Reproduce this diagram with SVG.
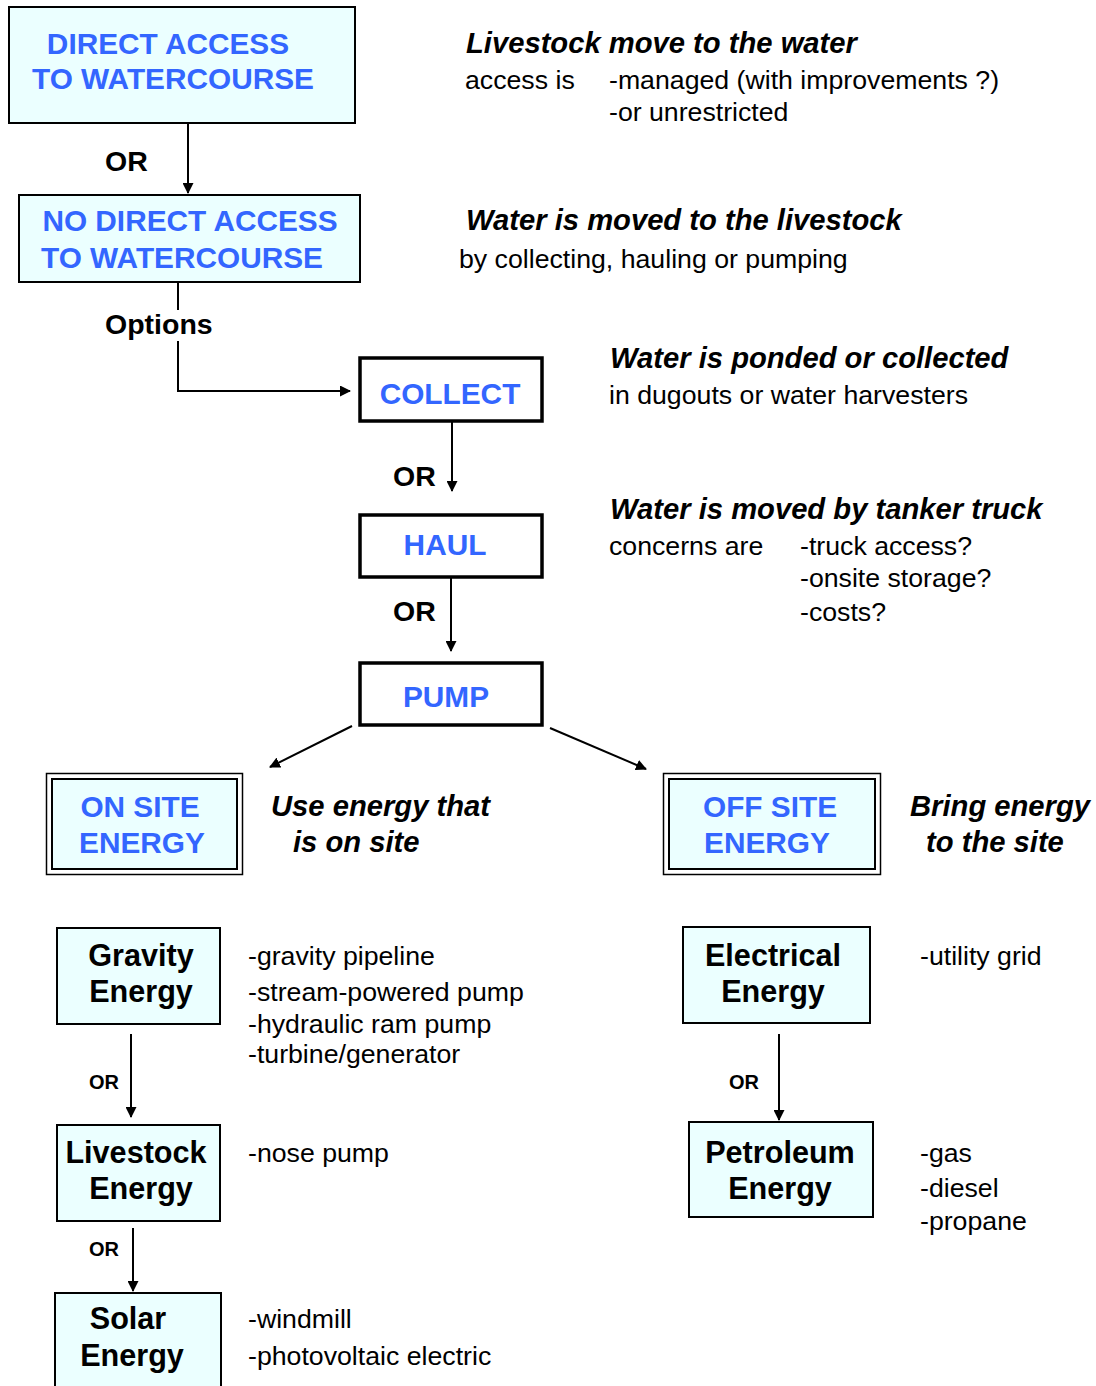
<svg xmlns="http://www.w3.org/2000/svg" width="1096" height="1386" viewBox="0 0 1096 1386">
<defs>
<marker id="ah" markerWidth="11" markerHeight="11" refX="10" refY="5.5" orient="auto" markerUnits="userSpaceOnUse">
<path d="M0,0 L11,5.5 L0,11 z" fill="#000"/>
</marker>
<style>
.box{fill:#EBFFFF;stroke:#000;stroke-width:2}
.wbox{fill:#fff;stroke:#000;stroke-width:3.5}
.bt{font-family:"Liberation Sans",Arial,sans-serif;font-weight:bold;font-size:29.8px;fill:#3366FF;text-anchor:middle}
.kt{font-family:"Liberation Sans",Arial,sans-serif;font-weight:bold;font-size:30.6px;fill:#000;text-anchor:middle}
.lbl{font-family:"Liberation Sans",Arial,sans-serif;font-weight:bold;font-size:28.5px;fill:#000}
.sm{font-family:"Liberation Sans",Arial,sans-serif;font-weight:bold;font-size:20px;fill:#000}
.hd{font-family:"Liberation Sans",Arial,sans-serif;font-weight:bold;font-style:italic;font-size:29.2px;fill:#000}
.tx{font-family:"Liberation Sans",Arial,sans-serif;font-size:26.7px;fill:#000}
.ln{stroke:#000;stroke-width:2;fill:none}
</style>
</defs>

<g id="connectors">
<line class="ln" x1="188" y1="123" x2="188" y2="193" marker-end="url(#ah)"/>
<path class="ln" d="M178,282 V310 M178,341 V391 H350" marker-end="url(#ah)"/>
<line class="ln" x1="452" y1="421" x2="452" y2="491" marker-end="url(#ah)"/>
<line class="ln" x1="451" y1="577" x2="451" y2="651" marker-end="url(#ah)"/>
<line class="ln" x1="352" y1="726" x2="270" y2="767" marker-end="url(#ah)"/>
<line class="ln" x1="550" y1="728" x2="646" y2="769" marker-end="url(#ah)"/>
<line class="ln" x1="131" y1="1034" x2="131" y2="1117" marker-end="url(#ah)"/>
<line class="ln" x1="133" y1="1228" x2="133" y2="1291" marker-end="url(#ah)"/>
<line class="ln" x1="779" y1="1034" x2="779" y2="1120" marker-end="url(#ah)"/>
<text class="lbl" x="105" y="171">OR</text>
<text class="lbl" x="105" y="334">Options</text>
<text class="lbl" x="393" y="486">OR</text>
<text class="lbl" x="393" y="621">OR</text>
<text class="sm" x="89" y="1089">OR</text>
<text class="sm" x="89" y="1256">OR</text>
<text class="sm" x="729" y="1089">OR</text>
</g>

<g id="direct">
<rect class="box" x="9" y="7" width="346" height="116"/>
<text class="bt" x="168" y="54">DIRECT ACCESS</text>
<text class="bt" x="173" y="89">TO WATERCOURSE</text>
</g>
<g id="nodirect">
<rect class="box" x="19" y="195" width="341" height="87"/>
<text class="bt" x="190" y="231">NO DIRECT ACCESS</text>
<text class="bt" x="182" y="268">TO WATERCOURSE</text>
</g>
<g id="collect">
<rect class="wbox" x="360" y="358" width="182" height="63"/>
<text class="bt" x="450" y="404">COLLECT</text>
</g>
<g id="haul">
<rect class="wbox" x="360" y="515" width="182" height="62"/>
<text class="bt" x="445" y="555">HAUL</text>
</g>
<g id="pump">
<rect class="wbox" x="360" y="663" width="182" height="62"/>
<text class="bt" x="446" y="707">PUMP</text>
</g>
<g id="onsite">
<rect x="46.5" y="773.5" width="196" height="101" fill="#fff" stroke="#000" stroke-width="1.5"/>
<rect class="box" x="52" y="779" width="185" height="90" stroke-width="3"/>
<text class="bt" x="140" y="817">ON SITE</text>
<text class="bt" x="142" y="853">ENERGY</text>
</g>
<g id="offsite">
<rect x="663.5" y="773.5" width="217" height="101" fill="#fff" stroke="#000" stroke-width="1.5"/>
<rect class="box" x="669" y="779" width="206" height="90" stroke-width="3"/>
<text class="bt" x="770" y="817">OFF SITE</text>
<text class="bt" x="767" y="853">ENERGY</text>
</g>
<g id="gravity">
<rect class="box" x="57" y="928" width="163" height="96"/>
<text class="kt" x="141" y="966">Gravity</text>
<text class="kt" x="141" y="1002">Energy</text>
</g>
<g id="livestock">
<rect class="box" x="57" y="1125" width="163" height="96"/>
<text class="kt" x="136" y="1163">Livestock</text>
<text class="kt" x="141" y="1199">Energy</text>
</g>
<g id="solar">
<rect class="box" x="55" y="1293" width="166" height="100"/>
<text class="kt" x="128" y="1329">Solar</text>
<text class="kt" x="132" y="1366">Energy</text>
</g>
<g id="electrical">
<rect class="box" x="683" y="927" width="187" height="96"/>
<text class="kt" x="773" y="966">Electrical</text>
<text class="kt" x="773" y="1002">Energy</text>
</g>
<g id="petroleum">
<rect class="box" x="689" y="1122" width="184" height="95"/>
<text class="kt" x="780" y="1163">Petroleum</text>
<text class="kt" x="780" y="1199">Energy</text>
</g>

<g id="notes">
<text class="hd" x="466" y="53">Livestock move to the water</text>
<text class="tx" x="465" y="89">access is</text>
<text class="tx" x="609" y="89">-managed (with improvements ?)</text>
<text class="tx" x="609" y="121">-or unrestricted</text>
<text class="hd" x="466" y="230">Water is moved to the livestock</text>
<text class="tx" x="459" y="268">by collecting, hauling or pumping</text>
<text class="hd" x="610" y="368">Water is ponded or collected</text>
<text class="tx" x="609" y="404">in dugouts or water harvesters</text>
<text class="hd" x="610" y="519">Water is moved by tanker truck</text>
<text class="tx" x="609" y="555">concerns are</text>
<text class="tx" x="800" y="555">-truck access?</text>
<text class="tx" x="800" y="587">-onsite storage?</text>
<text class="tx" x="800" y="621">-costs?</text>
<text class="hd" x="271" y="816">Use energy that</text>
<text class="hd" x="293" y="852">is on site</text>
<text class="hd" x="910" y="816">Bring energy</text>
<text class="hd" x="926" y="852">to the site</text>
<text class="tx" x="248" y="965">-gravity pipeline</text>
<text class="tx" x="248" y="1001">-stream-powered pump</text>
<text class="tx" x="248" y="1033">-hydraulic ram pump</text>
<text class="tx" x="248" y="1063">-turbine/generator</text>
<text class="tx" x="248" y="1162">-nose pump</text>
<text class="tx" x="248" y="1328">-windmill</text>
<text class="tx" x="248" y="1365">-photovoltaic electric</text>
<text class="tx" x="920" y="965">-utility grid</text>
<text class="tx" x="920" y="1162">-gas</text>
<text class="tx" x="920" y="1197">-diesel</text>
<text class="tx" x="920" y="1230">-propane</text>
</g>
</svg>
